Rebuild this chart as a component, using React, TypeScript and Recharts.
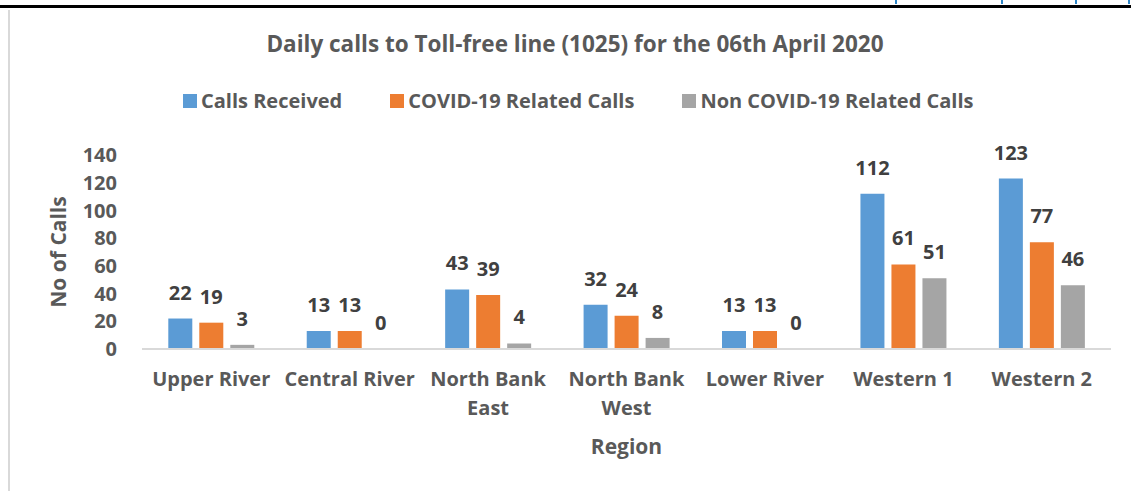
import React from 'react';
import { BarChart, Bar, XAxis, YAxis, Legend, LabelList } from 'recharts';

const regions = ['Upper River', 'Central River', 'North Bank East', 'North Bank West', 'Lower River', 'Western 1', 'Western 2'];
const callsReceived = [22, 13, 43, 32, 13, 112, 123];
const covidCalls = [19, 13, 39, 24, 13, 61, 77];
const nonCovidCalls = [3, 0, 4, 8, 0, 51, 46];
const yTicks = [0, 20, 40, 60, 80, 100, 120, 140];

const series = [
  { key: 'received', name: 'Calls Received', color: '#5B9BD5' },
  { key: 'covid', name: 'COVID-19 Related Calls', color: '#ED7D31' },
  { key: 'nonCovid', name: 'Non COVID-19 Related Calls', color: '#A5A5A5' },
];

const data = regions.map((region, i) => ({
  region,
  received: callsReceived[i],
  covid: covidCalls[i],
  nonCovid: nonCovidCalls[i],
}));

const FONT = '"Open Sans", sans-serif';
const GREY_TEXT = '#595959';

// wraps the longer region names onto two lines like Excel does
const RegionTick = (props: any) => {
  const { x, y, payload } = props;
  const words: string[] = String(payload.value).split(' ');
  const lines = words.length > 2 ? [words.slice(0, 2).join(' '), words.slice(2).join(' ')] : [payload.value];
  return (
    <g transform={`translate(${x},${y})`}>
      {lines.map((line, i) => (
        <text key={i} x={0} y={i * 29} dy={14} textAnchor="middle" fill={GREY_TEXT}
          fontFamily={FONT} fontWeight={700} fontSize={20}>
          {line}
        </text>
      ))}
    </g>
  );
};

const LegendRow = () => (
  <div style={{ display: 'flex', height: 26, alignItems: 'center' }}>
    {series.map((s) => (
      <div key={s.key} style={{ display: 'flex', alignItems: 'center', marginRight: 48 }}>
        <span style={{ width: 14, height: 14, background: s.color, marginRight: 4 }} />
        <span style={{ color: GREY_TEXT, fontFamily: FONT, fontWeight: 700, fontSize: 20, lineHeight: '26px' }}>{s.name}</span>
      </div>
    ))}
  </div>
);

// value label above each bar, zeros included
const ValueLabel = (props: any) => {
  const { x, y, width, value } = props;
  return (
    <text x={Number(x) + Number(width) / 2} y={Number(y) - 19} textAnchor="middle" fill="#404040"
      fontFamily={FONT} fontWeight={700} fontSize={20}>
      {value}
    </text>
  );
};

const App: React.FC = () => {
  return (
    <div style={{ position: 'absolute', left: 0, top: 0, width: 1131, height: 491, background: '#fff', overflow: 'hidden' }}>
      {/* page decoration: black rule and the chart box edge */}
      <div style={{ position: 'absolute', left: 0, top: 5, width: 1131, height: 3, background: '#000' }} />
      {[895, 1001, 1075, 1128].map((x) => (
        <div key={x} style={{ position: 'absolute', left: x, top: 0, width: 2, height: 4, background: '#2e86c8' }} />
      ))}
      <div style={{ position: 'absolute', left: 8, top: 10, width: 2, height: 481, background: '#d9d9d9' }} />

      <div style={{ position: 'absolute', left: 0, top: 29, width: 1131, textAlign: 'center', fontFamily: FONT,
        fontWeight: 700, fontSize: 22.5, lineHeight: '30px', color: GREY_TEXT, paddingLeft: 19, boxSizing: 'border-box' }}>
        Daily calls to Toll-free line (1025) for the 06th April 2020
      </div>

      <BarChart width={1131} height={491} data={data} barCategoryGap="19%" barGap={7}
        margin={{ top: 129, right: 20, bottom: 0, left: 0 }}>
        <Legend verticalAlign="top" align="left" content={<LegendRow />}
          wrapperStyle={{ top: 88, left: 183, width: 920, height: 26 }} />
        <XAxis dataKey="region" interval={0} height={142} tickLine={false} tickSize={0} tickMargin={23}
          axisLine={{ stroke: '#d9d9d9', strokeWidth: 2 }} tick={<RegionTick />}
          label={{ value: 'Region', position: 'insideTop', offset: 90, fill: GREY_TEXT,
            style: { fontFamily: FONT, fontWeight: 700, fontSize: 21 } }} />
        <YAxis domain={[0, 140]} ticks={yTicks} interval={0} width={142} axisLine={false} tickLine={false} tickSize={0}
          tickMargin={25} tick={{ fill: GREY_TEXT, fontFamily: FONT, fontWeight: 700, fontSize: 20 }}
          label={{ value: 'No of Calls', angle: -90, position: 'insideLeft', offset: 59, fill: GREY_TEXT,
            style: { fontFamily: FONT, fontWeight: 700, fontSize: 21, textAnchor: 'middle' } }} />
        {series.map((s) => (
          <Bar key={s.key} dataKey={s.key} name={s.name} fill={s.color} minPointSize={0.01} isAnimationActive={false}>
            <LabelList dataKey={s.key} content={<ValueLabel />} />
          </Bar>
        ))}
      </BarChart>
    </div>
  );
};

export default App;
